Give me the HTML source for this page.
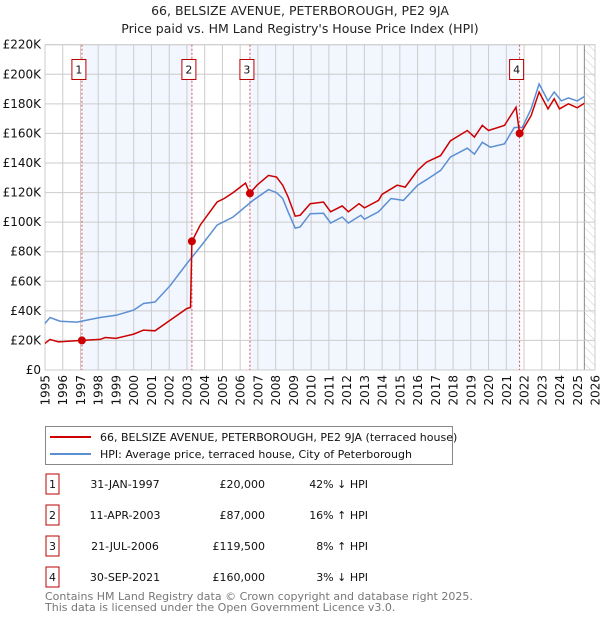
<!DOCTYPE html>
<html><head><meta charset="utf-8"><style>
body{margin:0;background:#fff;font-family:"Liberation Sans","DejaVu Sans",sans-serif;}
svg text{font-family:"DejaVu Sans","Liberation Sans",sans-serif;}
</style></head><body>
<svg id="c" width="600" height="620" xmlns="http://www.w3.org/2000/svg">
<defs><pattern id="hatch" width="6" height="6" patternUnits="userSpaceOnUse" patternTransform="rotate(-45)"><line x1="0" y1="0" x2="0" y2="6" stroke="#ccc" stroke-width="1"/></pattern></defs>
<text x="300" y="15" text-anchor="middle" font-size="12.5" fill="#222">66, BELSIZE AVENUE, PETERBOROUGH, PE2 9JA</text>
<text x="300" y="33" text-anchor="middle" font-size="12.5" fill="#222">Price paid vs. HM Land Registry's House Price Index (HPI)</text>
<g id="plot"></g>
<g id="legend">
<rect x="45.5" y="426.5" width="407" height="38" fill="#fff" stroke="#888"/>
<line x1="50" y1="437" x2="91" y2="437" stroke="#cc0000" stroke-width="2"/>
<text x="100" y="441" font-size="11" fill="#111">66, BELSIZE AVENUE, PETERBOROUGH, PE2 9JA (terraced house)</text>
<line x1="50" y1="454" x2="91" y2="454" stroke="#5b8fd4" stroke-width="2"/>
<text x="100" y="458" font-size="11" fill="#111">HPI: Average price, terraced house, City of Peterborough</text>
</g>
<g id="table" font-size="11" fill="#111"></g>
<text x="45" y="600" font-size="11" fill="#777">Contains HM Land Registry data © Crown copyright and database right 2025.</text>
<text x="45" y="611" font-size="11" fill="#777">This data is licensed under the Open Government Licence v3.0.</text>
</svg>
<script>
const yTicks=[0,20,40,60,80,100,120,140,160,180,200,220];
const yearTicks=[1995,1996,1997,1998,1999,2000,2001,2002,2003,2004,2005,2006,2007,2008,2009,2010,2011,2012,2013,2014,2015,2016,2017,2018,2019,2020,2021,2022,2023,2024,2025,2026];
const saleLabels=["1","2","3","4"];
const saleYears=[1997.08,2003.28,2006.55,2021.75];
const salePrices=[20,87,119.5,160];
const saleDates=["31-JAN-1997","11-APR-2003","21-JUL-2006","30-SEP-2021"];
const salePriceText=["£20,000","£87,000","£119,500","£160,000"];
const salePct=["42% ↓ HPI","16% ↑ HPI","8% ↑ HPI","3% ↓ HPI"];
const hpiYears=[1995,1995.28,1995.85,1996.8,1998.1,1999,2000,2000.55,2001.2,2002.05,2003,2003.9,2004.7,2005.6,2006.75,2007.6,2008.05,2008.4,2008.7,2009.1,2009.38,2009.95,2010.7,2011.1,2011.75,2012.1,2012.8,2013,2013.8,2014.5,2015.2,2016,2016.5,2017.3,2017.85,2018.8,2019.2,2019.65,2020.1,2020.9,2021.45,2021.9,2022.4,2022.85,2023.35,2023.7,2024.1,2024.5,2025,2025.4];
const hpiValues=[31.5,35.5,33,32.4,35.5,37,40.5,45,46,57,72,85.5,98,103.5,115,122,120,116,107,96,96.7,105.7,106,99.4,103.5,99.4,104.6,102,107,116,114.7,125,128.7,135,144,150,146,154,150.7,153,164,164,176.6,193.5,182,188,182,184,182,185];
const priceYears=[1995,1995.28,1995.75,1997.08,1998.1,1998.4,1999,2000,2000.55,2001.2,2002.05,2003,2003.2,2003.28,2003.75,2004.7,2005.1,2005.6,2006.3,2006.55,2006.95,2007.6,2008.05,2008.4,2008.7,2009.1,2009.38,2009.95,2010.7,2011.1,2011.75,2012.1,2012.7,2013,2013.8,2014,2014.85,2015.3,2016,2016.5,2017.3,2017.85,2018.8,2019.2,2019.65,2020,2020.9,2021.55,2021.75,2021.9,2022.4,2022.85,2023.35,2023.7,2024,2024.5,2025,2025.4];
const priceValues=[18,20.7,19,20,20.7,22,21.4,24.3,27,26.5,33.7,41.6,42.3,87,98,113.6,116,120,126.4,119.5,125,131.6,130.5,125,117,104,104.6,112.5,113.6,107,111,107,112.5,109.6,114.7,118.8,125,123.7,135,140.6,145,155,162,157.5,165.4,162,165.4,177.7,160,162,172,188,176.6,183.4,176.6,180,177.3,180.4];
const X0=45,X1=595,Y0=370,Y1=44.7;
const xs=y=>X0+(y-1995)/(2026-1995)*(X1-X0);
const ys=v=>Y0-v/220*(Y0-Y1);
const NS="http://www.w3.org/2000/svg";
const plot=document.getElementById('plot');
function mk(tag,attrs,parent){const e=document.createElementNS(NS,tag);for(const k in attrs)e.setAttribute(k,attrs[k]);(parent||plot).appendChild(e);return e;}
for(let i=0;i<4;i+=2){const r=mk('rect',{x:xs(saleYears[i]),y:Y1,width:xs(saleYears[i+1])-xs(saleYears[i]),height:Y0-Y1,fill:'#f2f6fe'});

}
const hatchStart=2025.4;
const h=mk('rect',{x:xs(hatchStart),y:Y1,width:X1-xs(hatchStart),height:Y0-Y1,fill:'url(#hatch)'});


mk('line',{x1:xs(hatchStart),x2:xs(hatchStart),y1:Y1,y2:Y0,stroke:'#888','stroke-width':1});
yTicks.forEach(v=>{const l=mk('line',{x1:X0,x2:X1,y1:ys(v),y2:ys(v),stroke:'#ccc','stroke-width':1});


const t=mk('text',{x:X0-4,y:ys(v)+4,'text-anchor':'end','font-size':12,fill:'#111'});t.textContent=v===0?'£0':'£'+v+'K';

});
yearTicks.forEach(y=>{const l=mk('line',{x1:xs(y),x2:xs(y),y1:Y1,y2:Y0,stroke:'#ccc','stroke-width':1});


const t=mk('text',{x:0,y:0,'text-anchor':'end','font-size':12,fill:'#111',transform:`translate(${xs(y)+4.5},375) rotate(-90)`});t.textContent=y;

});
mk('rect',{x:X0,y:Y1,width:X1-X0,height:Y0-Y1,fill:'none',stroke:'#ccc'});
saleYears.forEach((y,i)=>{const l=mk('line',{x1:xs(y),x2:xs(y),y1:Y1,y2:Y0,stroke:'#e05050','stroke-width':1,'stroke-dasharray':'2,2'});


const bx=xs(y)-3;
const r=mk('rect',{x:bx-7,y:59.5,width:14,height:20,fill:'#fff',stroke:'#b00'});


const t=mk('text',{x:bx,y:73.5,'text-anchor':'middle','font-size':11,fill:'#111'});t.textContent=saleLabels[i];

});
function path(xa,va){return xa.map((y,i)=>(i?'L':'M')+xs(y).toFixed(1)+','+ys(va[i]).toFixed(1)).join('');}
const hp=mk('path',{d:path(hpiYears,hpiValues),fill:'none',stroke:'#5b8fd4','stroke-width':1.5});


const pp=mk('path',{d:path(priceYears,priceValues),fill:'none',stroke:'#cc0000','stroke-width':1.5});


saleYears.forEach((y,i)=>{const c=mk('circle',{cx:xs(y),cy:ys(salePrices[i]),r:4,fill:'#cc0000'});

});
const tb=document.getElementById('table');
saleLabels.forEach((s,i)=>{const yy=484+i*31;
const r=mk('rect',{x:46,y:yy-10,width:13,height:20,fill:'#fff',stroke:'#b00'},tb);


const cells=[[52.5,'middle',s],[125,'middle',saleDates[i]],[265,'end',salePriceText[i]],[368,'end',salePct[i]]];
cells.forEach(c=>{const t=mk('text',{x:c[0],y:yy+4,'text-anchor':c[1]},tb);t.textContent=c[2];

});});
</script>
</body></html>
